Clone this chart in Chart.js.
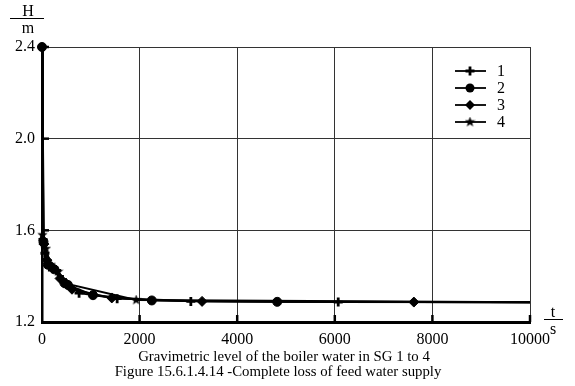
<!DOCTYPE html>
<html>
<head>
<meta charset="utf-8">
<script src="https://cdn.jsdelivr.net/npm/chart.js@4/dist/chart.umd.min.js"></script>
<style>
html,body{margin:0;padding:0;background:#fff;}
#c{display:block;}
</style>
</head>
<body>
<canvas id="c" width="575" height="386"></canvas>
<script>
// ---- data ----
const seriesNames = ['1', '2', '3', '4'];
const times1 = [0, 20, 60, 150, 300, 420, 760, 1540, 3050, 6070, 10000];
const level1 = [2.4, 1.56, 1.50, 1.44, 1.425, 1.385, 1.326, 1.302, 1.290, 1.287, 1.286];
const times2 = [0, 30, 120, 250, 460, 530, 1045, 2250, 4820, 10000];
const level2 = [2.4, 1.55, 1.45, 1.43, 1.37, 1.362, 1.317, 1.294, 1.288, 1.286];
const times3 = [0, 40, 100, 200, 370, 615, 1430, 3280, 7620, 10000];
const level3 = [2.4, 1.54, 1.47, 1.44, 1.39, 1.343, 1.305, 1.290, 1.287, 1.286];
const times4 = [0, 10, 80, 180, 330, 500, 1930, 10000];
const level4 = [2.4, 1.58, 1.52, 1.45, 1.42, 1.367, 1.296, 1.286];
const xTicks = [0, 2000, 4000, 6000, 8000, 10000];
const yTicks = [1.2, 1.6, 2.0, 2.4];
const captionLine1 = 'Gravimetric level of the boiler water in SG 1 to 4';
const captionLine2 = 'Figure 15.6.1.4.14 -Complete loss of feed water supply';

// ---- marker for series 4: filled five-point star ----
function makeStar(size) {
  const cv = document.createElement('canvas');
  cv.width = size; cv.height = size;
  const g = cv.getContext('2d');
  const cx = size / 2, cy = size / 2, R = size / 2, r = R * 0.42;
  g.beginPath();
  for (let i = 0; i < 10; i++) {
    const a = -Math.PI / 2 + i * Math.PI / 5;
    const rr = i % 2 === 0 ? R : r;
    g.lineTo(cx + rr * Math.cos(a), cy + rr * Math.sin(a));
  }
  g.closePath();
  g.fillStyle = '#000';
  g.fill();
  return cv;
}
const starImg = makeStar(11);

const styles = ['cross', 'circle', 'rectRot', starImg];
const toXY = (t, v) => t.map((x, i) => ({x: x, y: v[i]}));
const allData = [toXY(times1, level1), toXY(times2, level2), toXY(times3, level3), toXY(times4, level4)];

const datasets = allData.map((d, k) => ({
  label: seriesNames[k],
  data: d,
  borderColor: '#000',
  backgroundColor: '#000',
  borderWidth: 2,
  clip: 8,
  pointStyle: styles[k],
  pointBackgroundColor: '#000',
  pointBorderColor: '#000',
  pointBorderWidth: k === 0 ? 2.8 : 1,
  pointRadius: (c) => {
    const n = c.dataset.data.length;
    if (c.dataIndex === 0) return c.datasetIndex === 1 ? 4.5 : 0;
    if (c.dataIndex === n - 1) return 0;
    return c.datasetIndex === 2 ? 5 : 4.5;
  },
  tension: 0
}));

const SERIF = '"Liberation Serif", "DejaVu Serif", serif';

function drawMarker(ctx, style, x, y) {
  ctx.save();
  ctx.fillStyle = '#000';
  ctx.strokeStyle = '#000';
  if (style === 'circle') {
    ctx.beginPath(); ctx.arc(x, y, 4.5, 0, Math.PI * 2); ctx.fill();
  } else if (style === 'cross') {
    ctx.lineWidth = 2.8;
    ctx.beginPath();
    ctx.moveTo(x - 4.5, y); ctx.lineTo(x + 4.5, y);
    ctx.moveTo(x, y - 4.5); ctx.lineTo(x, y + 4.5);
    ctx.stroke();
  } else if (style === 'rectRot') {
    ctx.beginPath();
    ctx.moveTo(x, y - 5); ctx.lineTo(x + 5, y); ctx.lineTo(x, y + 5); ctx.lineTo(x - 5, y);
    ctx.closePath(); ctx.fill();
  } else {
    ctx.drawImage(style, x - style.width / 2, y - style.height / 2);
  }
  ctx.restore();
}

const decor = {
  id: 'decor',
  afterDraw(chart) {
    const ctx = chart.ctx;
    const xs = chart.scales.x, ys = chart.scales.y;
    const a = chart.chartArea;
    ctx.save();
    // inner tick marks
    ctx.strokeStyle = '#000';
    ctx.lineWidth = 2.5;
    xTicks.forEach(t => {
      if (t === 0) return;
      const px = xs.getPixelForValue(t);
      ctx.beginPath(); ctx.moveTo(px, a.bottom); ctx.lineTo(px, a.bottom - 7); ctx.stroke();
    });
    yTicks.forEach(t => {
      if (t === 1.2) return;
      const py = ys.getPixelForValue(t);
      ctx.beginPath(); ctx.moveTo(a.left, py); ctx.lineTo(a.left + 7, py); ctx.stroke();
    });
    // axis titles
    ctx.fillStyle = '#000';
    ctx.font = '16px ' + SERIF;
    ctx.textAlign = 'center';
    ctx.textBaseline = 'alphabetic';
    ctx.fillText('H', 28, 16);
    ctx.fillText('m', 28, 33);
    ctx.fillText('t', 553, 317);
    ctx.fillText('s', 553, 334);
    ctx.lineWidth = 1;
    ctx.beginPath(); ctx.moveTo(10, 18.5); ctx.lineTo(44, 18.5); ctx.stroke();
    ctx.beginPath(); ctx.moveTo(544, 319.5); ctx.lineTo(563, 319.5); ctx.stroke();
    // legend
    chart.data.datasets.forEach((ds, i) => {
      const y = 71 + i * 17;
      ctx.lineWidth = 1.8;
      ctx.beginPath(); ctx.moveTo(455, y); ctx.lineTo(486, y); ctx.stroke();
      drawMarker(ctx, ds.pointStyle, 470, y);
      ctx.textAlign = 'left';
      ctx.textBaseline = 'middle';
      ctx.font = '16px ' + SERIF;
      ctx.fillText(ds.label, 497, y + 1);
    });
    // captions
    ctx.textAlign = 'center';
    ctx.textBaseline = 'alphabetic';
    ctx.font = '14.8px ' + SERIF;
    ctx.fillText(captionLine1, 284, 361);
    ctx.fillText(captionLine2, 278, 376);
    ctx.restore();
  }
};

new Chart(document.getElementById('c'), {
  type: 'line',
  data: {datasets: datasets},
  options: {
    responsive: false,
    animation: false,
    layout: {padding: {top: 47, right: 45, bottom: 0, left: 0}},
    plugins: {legend: {display: false}, tooltip: {enabled: false}},
    scales: {
      x: {
        type: 'linear',
        min: 0, max: 10000,
        afterFit: (s) => { s.height = 64; },
        afterBuildTicks: (s) => { s.ticks = xTicks.map(v => ({value: v})); },
        ticks: {
          color: '#000',
          font: {family: SERIF, size: 16},
          padding: 8,
          maxRotation: 0,
          callback: (v) => String(v)
        },
        grid: {color: '#333', lineWidth: 1, drawTicks: false},
        border: {display: true, color: '#000', width: 3}
      },
      y: {
        type: 'linear',
        min: 1.2, max: 2.4,
        afterFit: (s) => { s.width = 42; },
        afterBuildTicks: (s) => { s.ticks = yTicks.map(v => ({value: v})); },
        ticks: {
          color: '#000',
          font: {family: SERIF, size: 16},
          padding: 7,
          callback: (v) => Number(v).toFixed(1)
        },
        grid: {color: '#333', lineWidth: 1, drawTicks: false},
        border: {display: true, color: '#000', width: 2.5}
      }
    }
  },
  plugins: [decor]
});
</script>
</body>
</html>
